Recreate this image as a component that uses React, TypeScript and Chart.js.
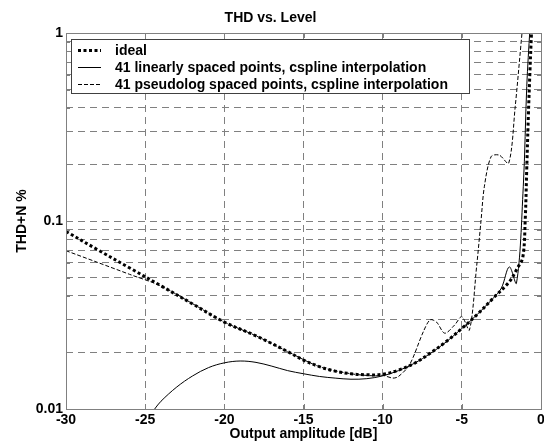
import React, { useEffect, useRef } from 'react';
import { Chart, registerables } from 'chart.js';

Chart.register(...registerables);

// ---- data ----
const idealX = [-30, -28, -26, -24, -22, -20, -18, -16, -15, -14, -13, -12, -11, -10, -9, -8, -7, -6, -5, -4, -3, -2, -1.5, -1.15, -1.0, -0.9, -0.8, -0.7, -0.6, -0.5];
const idealY = [0.088, 0.0703, 0.0564, 0.0452, 0.0362, 0.029, 0.0245, 0.0202, 0.0182, 0.0168, 0.0159, 0.0154, 0.0152, 0.0153, 0.0161, 0.0175, 0.0198, 0.0228, 0.0268, 0.032, 0.039, 0.0475, 0.056, 0.064, 0.1, 0.19, 0.36, 0.62, 1.0, 1.5];

const linX = [-25.5, -24.4, -24, -23, -22, -21, -20, -19, -18, -17, -16, -15, -14, -13, -12, -11, -10, -9, -8, -7, -6, -5, -4, -3, -2.5, -2.0, -1.55, -1.12, -0.9, -0.7, -0.6];
const linY = [0.0075, 0.01, 0.011, 0.0131, 0.015, 0.0166, 0.0176, 0.018, 0.0177, 0.0169, 0.016, 0.0154, 0.0149, 0.0146, 0.0144, 0.0145, 0.015, 0.016, 0.0175, 0.0197, 0.0227, 0.0268, 0.032, 0.039, 0.044, 0.057, 0.0467, 0.152, 0.52, 1.05, 1.4];

const logX = [-30, -28, -26, -24, -22, -20, -18, -16, -14, -12, -10.5, -10, -9.35, -9, -8.3, -7.43, -7.0, -6.6, -6.08, -5.45, -5.0, -4.52, -4.06, -3.79, -3.58, -3.15, -2.63, -2.04, -1.63, -1.2, -1.0];
const logY = [0.0695, 0.0602, 0.0521, 0.0451, 0.0363, 0.029, 0.0245, 0.0202, 0.0168, 0.0154, 0.015, 0.0151, 0.0146, 0.0149, 0.0172, 0.0258, 0.0298, 0.029, 0.0253, 0.028, 0.031, 0.0263, 0.058, 0.1, 0.152, 0.22, 0.224, 0.203, 0.405, 1.0, 1.5];

const xTicks = [-30, -25, -20, -15, -10, -5, 0];
const yTicks = [0.01, 0.02, 0.03, 0.04, 0.05, 0.06, 0.07, 0.08, 0.09, 0.1, 0.2, 0.3, 0.4, 0.5, 0.6, 0.7, 0.8, 0.9, 1];
const yMajorLabels: Record<string, string> = { '0.01': '0.01', '0.1': '0.1', '1': '1' };

const legendLabels = ['ideal', '41 linearly spaced points, cspline interpolation', '41 pseudolog spaced points, cspline interpolation'];
const titleText = 'THD vs. Level';
const xTitle = 'Output amplitude [dB]';
const yTitle = 'THD+N %';

const FONT = '"Liberation Sans", Arial, Helvetica, sans-serif';
const GRID = '#808080';

const toPts = (xs: number[], ys: number[]) => xs.map((x, i) => ({ x, y: ys[i] }));

const isMajor = (v: number) => Math.abs(Math.log10(v) - Math.round(Math.log10(v))) < 1e-6;

const framePlugin = {
  id: 'frame',
  afterDatasetsDraw(chart: any) {
    const { ctx, chartArea: a, scales } = chart;
    const xs = scales.x, ys = scales.y;
    ctx.save();
    ctx.strokeStyle = GRID;
    ctx.lineWidth = 1;
    ctx.setLineDash([]);
    // frame
    ctx.strokeRect(Math.round(a.left) + 0.5, Math.round(a.top) + 0.5, Math.round(a.right - a.left), Math.round(a.bottom - a.top));
    // inward ticks
    ctx.beginPath();
    xTicks.forEach((t) => {
      const px = Math.round(xs.getPixelForValue(t)) + 0.5;
      ctx.moveTo(px, a.bottom); ctx.lineTo(px, a.bottom - 5);
      ctx.moveTo(px, a.top); ctx.lineTo(px, a.top + 5);
    });
    yTicks.forEach((t) => {
      const py = Math.round(ys.getPixelForValue(t)) + 0.5;
      const len = isMajor(t) ? 5 : 4;
      ctx.moveTo(a.left, py); ctx.lineTo(a.left + len, py);
      ctx.moveTo(a.right, py); ctx.lineTo(a.right - len, py);
    });
    ctx.stroke();

    // legend box
    const bx = 71, by = 39, bw = 398, bh = 54;
    ctx.fillStyle = '#ffffff';
    ctx.fillRect(bx, by, bw, bh);
    ctx.strokeStyle = '#404040';
    ctx.strokeRect(bx + 0.5, by + 0.5, bw, bh);
    const rows = [50, 67, 84];
    const styles = [
      { w: 3, dash: [3, 2.5] },
      { w: 1, dash: [] as number[] },
      { w: 1, dash: [4, 2] },
    ];
    chart.data.datasets.forEach((ds: any, i: number) => {
      const y = rows[i];
      ctx.save();
      ctx.strokeStyle = '#000';
      ctx.lineWidth = styles[i].w;
      ctx.setLineDash(styles[i].dash);
      ctx.beginPath();
      ctx.moveTo(78, y + 0.5);
      ctx.lineTo(101, y + 0.5);
      ctx.stroke();
      ctx.restore();
      ctx.fillStyle = '#000';
      ctx.font = `bold 14px ${FONT}`;
      ctx.textBaseline = 'middle';
      ctx.textAlign = 'left';
      ctx.fillText(ds.label, 115, y + 1);
    });
    ctx.restore();
  },
};

export default function App() {
  const ref = useRef<HTMLCanvasElement | null>(null);
  useEffect(() => {
    if (!ref.current) return;
    const chart = new Chart(ref.current, {
      type: 'line',
      data: {
        datasets: [
          {
            label: legendLabels[0],
            data: toPts(idealX, idealY),
            borderColor: '#000',
            borderWidth: 3,
            borderDash: [3, 2.5],
            pointRadius: 0,
            tension: 0.35,
            clip: 0,
          },
          {
            label: legendLabels[1],
            data: toPts(linX, linY),
            borderColor: '#000',
            borderWidth: 1,
            pointRadius: 0,
            tension: 0.35,
            clip: 0,
          },
          {
            label: legendLabels[2],
            data: toPts(logX, logY),
            borderColor: '#000',
            borderWidth: 1,
            borderDash: [4, 2],
            pointRadius: 0,
            tension: 0.3,
            clip: 0,
          },
        ],
      },
      options: {
        animation: false,
        responsive: false,
        devicePixelRatio: 1,
        layout: { padding: { left: 0, right: 3, top: 0, bottom: 0 } },
        plugins: {
          legend: { display: false },
          tooltip: { enabled: false },
          title: {
            display: true,
            text: titleText,
            color: '#000',
            font: { family: FONT, size: 14, weight: 'bold' },
            padding: { top: 9.6, bottom: 6.6 },
          },
        },
        scales: {
          x: {
            type: 'linear',
            min: -30,
            max: 0,
            afterBuildTicks: (s: any) => { s.ticks = xTicks.map((v) => ({ value: v })); },
            afterFit: (s: any) => { s.height = 34; s.paddingLeft = 0; s.paddingRight = 0; },
            ticks: {
              color: '#000',
              font: { family: FONT, size: 14, weight: 'bold' },
              padding: 3,
              maxRotation: 0,
              autoSkip: false,
              callback: (v: any) => String(v),
            },
            grid: {
              drawTicks: false,
              color: (c: any) => (c.index === 0 || c.index === xTicks.length - 1 ? 'rgba(0,0,0,0)' : GRID),
            },
            border: { display: false, dash: [7, 5] },
            title: {
              display: true,
              text: xTitle,
              color: '#000',
              font: { family: FONT, size: 14, weight: 'bold' },
              padding: { top: 0, bottom: 0 },
            },
          },
          y: {
            type: 'logarithmic',
            min: 0.01,
            max: 1,
            afterBuildTicks: (s: any) => { s.ticks = yTicks.map((v) => ({ value: v, major: isMajor(v) })); },
            afterFit: (s: any) => { s.width = 66; s.paddingTop = 0; s.paddingBottom = 0; },
            ticks: {
              color: '#000',
              font: { family: FONT, size: 14, weight: 'bold' },
              padding: 3,
              autoSkip: false,
              callback: (v: any) => yMajorLabels[String(v)] ?? '',
            },
            grid: {
              drawTicks: false,
              color: (c: any) => (c.index === 0 || c.index === yTicks.length - 1 ? 'rgba(0,0,0,0)' : GRID),
            },
            border: { display: false, dash: [7, 5] },
            title: {
              display: true,
              text: yTitle,
              color: '#000',
              font: { family: FONT, size: 14, weight: 'bold' },
              padding: { top: 13.6, bottom: 0 },
            },
          },
        },
      },
      plugins: [framePlugin],
    } as any);
    return () => chart.destroy();
  }, []);
  return (
    <div style={{ position: 'absolute', left: 0, top: 0, width: 544, height: 443, background: '#fff' }}>
      <canvas ref={ref} width={544} height={443} style={{ display: 'block' }} />
    </div>
  );
}
